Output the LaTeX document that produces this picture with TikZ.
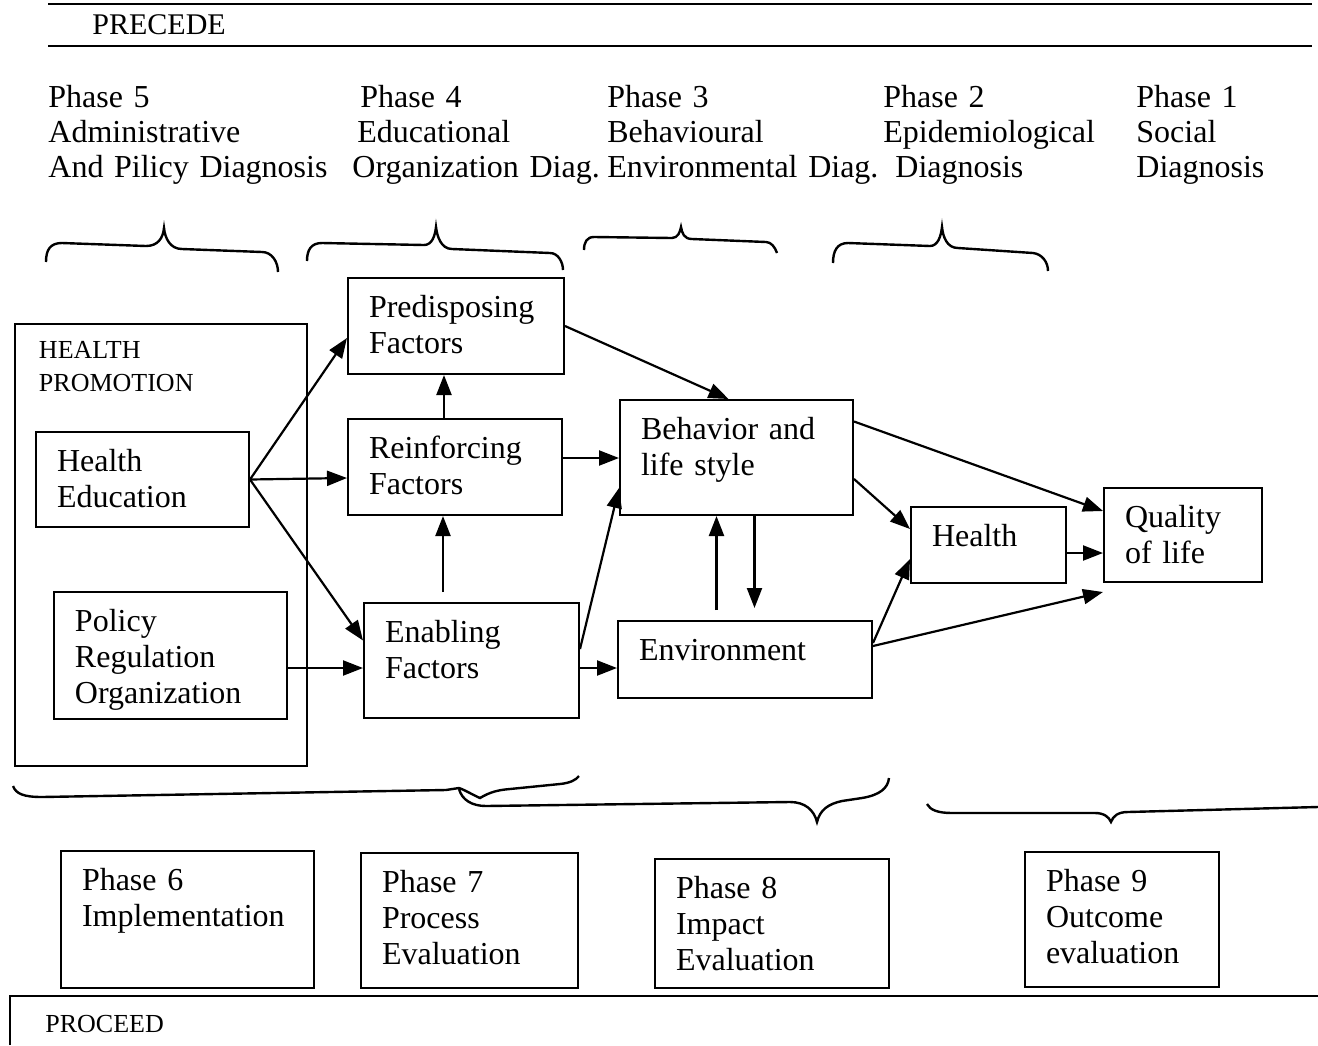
\documentclass[tikz,border=0pt]{standalone}
\usepackage{fontspec}
\setmainfont{Liberation Serif}
\usetikzlibrary{arrows.meta}
\tikzset{
  blk/.style 2 args={draw, line width=1pt, anchor=north west, align=left,
    inner xsep=10.5pt, inner ysep=0pt, text width=#1, text height=19.5pt,
    text depth=#2, font=\fontsize{16}{18}\selectfont},
  hdr/.style={anchor=base west, align=left, inner sep=0pt, text width=150pt,
    font=\fontsize{16}{17.5}\selectfont},
  arr/.style={line width=1.1pt, -{Triangle[length=10pt,width=7.5pt]}},
  brace/.style={line width=1.2pt},
  rule/.style={line width=1.2pt},
}

\begin{document}
\begin{tikzpicture}[x=0.5pt, y=-0.5pt]
  \useasboundingbox (0,0) rectangle (1318,1045);

  % ---------- PRECEDE header ----------
  \draw[rule] (48,4) -- (1312,4);
  \draw[rule] (48,46) -- (1312,46);
  \node[anchor=base west, inner sep=0pt, font=\fontsize{15}{18}\selectfont] (precede) at (92,34) {PRECEDE};

  \node[hdr] (ph5) at (48,107) {Phase 5\\Administrative\\And Pilicy Diagnosis};
  \node[hdr] (ph4) at (352,107) {\hspace*{4pt}Phase 4\\\hspace*{2.5pt}Educational\\Organization Diag.};
  \node[hdr] (ph3) at (607,107) {Phase 3\\Behavioural\\Environmental Diag.};
  \node[hdr] (ph2) at (883,107) {Phase 2\\Epidemiological\\\hspace*{6pt}Diagnosis};
  \node[hdr] (ph1) at (1136,107) {Phase 1\\Social\\Diagnosis};

  % braces over the phases
  \draw[brace] (46,262) .. controls (46,250) and (50,243) .. (62,243) -- (146,246)
    .. controls (158,246) and (163,238) .. (164,228) .. controls (165,238) and (170,249) .. (182,249)
    -- (262,252) .. controls (272,252) and (278,262) .. (278,272);
  \draw[brace] (307,261) .. controls (307,250) and (311,243) .. (322,243) -- (424,245)
    .. controls (432,245) and (435,236) .. (436,227) .. controls (437,236) and (441,249) .. (452,249)
    -- (550,253) .. controls (558,253) and (563,262) .. (563,270);
  \draw[brace] (584,250) .. controls (584,242) and (587,237) .. (594,237) -- (672,238)
    .. controls (678,238) and (680,232) .. (681,227) .. controls (682,233) and (684,239) .. (692,239)
    -- (766,242) .. controls (771,242) and (775,247) .. (777,253);
  \draw[brace] (833,263) .. controls (833,251) and (837,243) .. (848,243) -- (930,246)
    .. controls (938,246) and (941,236) .. (942,227) .. controls (943,237) and (947,248) .. (958,248)
    -- (1033,253) .. controls (1042,254) and (1048,262) .. (1048,271);

  % ---------- model boxes ----------
  \node[blk={122pt}{204pt}, inner xsep=12pt, text height=17pt,
    font=\fontsize{13}{16.5}\selectfont] (hp) at (14,323) {HEALTH\\PROMOTION};
  \node[blk={85.5pt}{28pt}] (he) at (35,431) {Health\\Education};
  \node[blk={95.5pt}{44pt}] (pol) at (53,591) {Policy\\Regulation\\Organization};

  \node[blk={87pt}{28.5pt}] (pred) at (347,277) {Predisposing\\Factors};
  \node[blk={86pt}{28.5pt}] (reinf) at (347,418) {Reinforcing\\Factors};
  \node[blk={86.5pt}{38pt}] (enab) at (363,602) {Enabling\\Factors};

  \node[blk={95.5pt}{38pt}] (beh) at (619,399) {Behavior and\\life style};
  \node[blk={106pt}{19pt}] (env) at (617,620) {Environment};
  \node[blk={56.5pt}{18.5pt}] (health) at (910,506) {Health};
  \node[blk={58pt}{27.5pt}] (qol) at (1103,487) {Quality\\of life};

  % arrows
  \draw[arr] (he.east) -- ([yshift=-6pt]pred.west);
  \draw[arr] (he.east) -- ([yshift=-5.5pt]reinf.west);
  \draw[arr] (he.east) -- ([yshift=10pt]enab.west);
  \draw[arr] ([yshift=-6.25pt]pol.east) -- ([yshift=-6.25pt]pol.east -| enab.west);

  \draw[arr] ([xshift=-5.5pt]reinf.north) -- ([xshift=-5.5pt]reinf.north |- pred.south);
  \draw[arr] ([xshift=-6pt,yshift=5pt]enab.north -| reinf.south) -- ([xshift=-6pt]reinf.south);
  \draw[arr] ([yshift=4.5pt]reinf.east) -- ([yshift=4.5pt]reinf.east -| beh.west);
  \draw[arr] ([yshift=5.75pt]enab.east) -- ([yshift=-15.25pt]beh.west);
  \draw[arr] ([yshift=-3.75pt]enab.east) -- ([yshift=-3.75pt]enab.east -| env.west);
  \draw[arr] (pred.east) -- ([xshift=-4pt]beh.north);

  \draw[arr] ([xshift=-10pt,yshift=5pt]env.north -| beh.south) -- ([xshift=-10pt]beh.south);
  \draw[arr] ([xshift=9pt]beh.south) -- ([xshift=9pt,yshift=6pt]env.north -| beh.south);

  \draw[arr] ([yshift=18pt]beh.east) -- ([yshift=12pt]qol.west);
  \draw[arr] ([yshift=-10.75pt]beh.east) -- ([yshift=8pt]health.west);
  \draw[arr] ([yshift=8.25pt]env.east) -- ([yshift=-7pt]health.west);
  \coordinate (qolfoot) at ([yshift=-4.5pt]qol.south west);
  \draw[arr] ([yshift=6.75pt]env.east) -- (qolfoot);
  \draw[arr] ([yshift=-4pt]health.east) -- ([yshift=-4pt]health.east -| qol.west);

  % ---------- braces under the model ----------
  \draw[brace] (13,786) .. controls (16,794) and (24,797) .. (42,797) -- (446,790) -- (459,788)
    .. controls (465,790) and (473,795) .. (480,798) .. controls (490,792) and (498,790) .. (510,789)
    -- (560,784) .. controls (570,783) and (576,780) .. (579,776);
  \draw[brace] (459,789) .. controls (462,800) and (472,806) .. (486,806) -- (790,802)
    .. controls (805,802) and (814,810) .. (817,822) .. controls (820,810) and (828,804) .. (842,801)
    -- (862,798) .. controls (880,795) and (888,788) .. (889,778);
  \draw[brace] (927,804) .. controls (930,810) and (938,813) .. (952,813) -- (1095,813)
    .. controls (1104,813) and (1109,817) .. (1111,822) .. controls (1113,816) and (1118,812) .. (1128,812)
    -- (1318,807);

  % ---------- PROCEED phases ----------
  \node[blk={105.5pt}{49pt}] (ph6) at (60,850) {Phase 6\\Implementation};
  \node[blk={87.5pt}{48pt}] (ph7) at (360,852) {Phase 7\\Process\\Evaluation};
  \node[blk={96pt}{45pt}] (ph8) at (654,858) {Phase 8\\Impact\\Evaluation};
  \node[blk={76pt}{48pt}] (ph9) at (1024,851) {Phase 9\\Outcome\\evaluation};

  \draw[rule] (10,1045) -- (10,996) -- (1318,996);
  \node[anchor=base west, inner sep=0pt, font=\fontsize{13}{16}\selectfont] (proceed) at (45,1032) {PROCEED};
\end{tikzpicture}
\end{document}
